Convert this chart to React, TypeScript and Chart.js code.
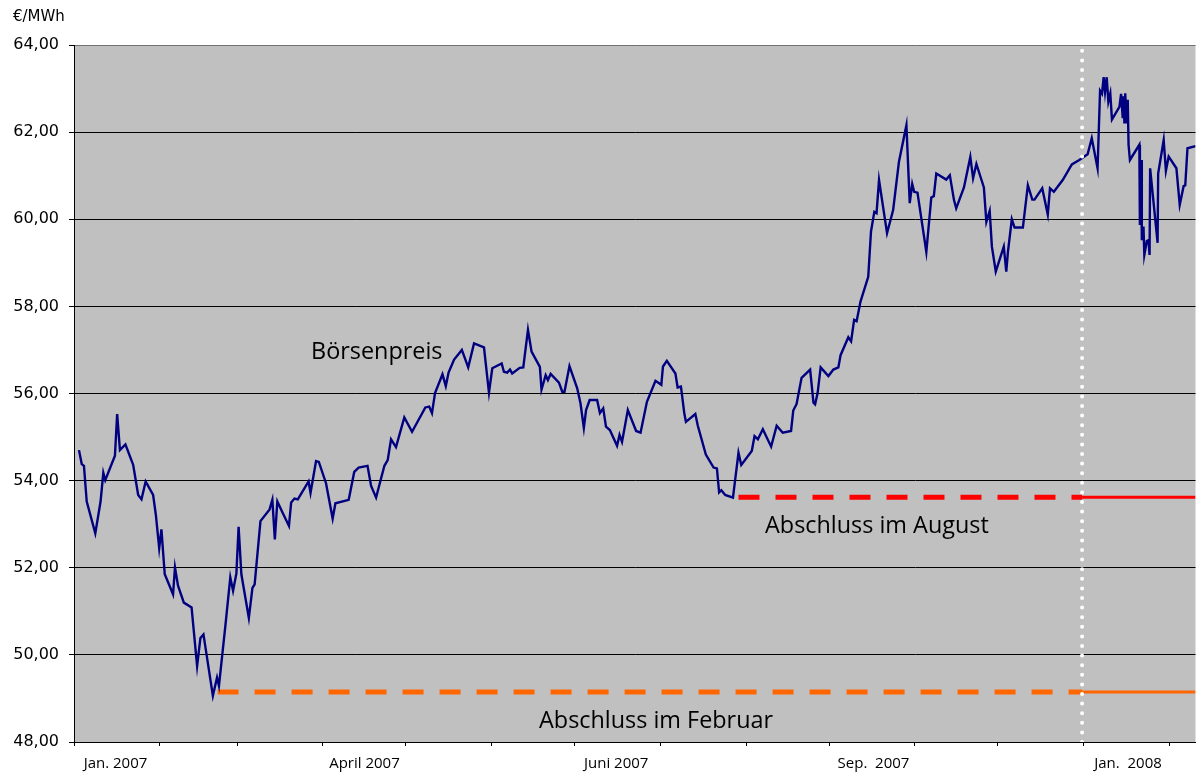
import React, { useEffect, useRef } from 'react';
import { Chart, registerables } from 'chart.js';

Chart.register(...registerables);

// Days since 1 Jan 2007
const priceDays = [
  1.8, 2.8, 3.6, 4.6, 7.7, 9.6, 10.6, 11.3, 14.8, 15.6,
  16.6, 18.6, 21.4, 23.2, 24.4, 25.9, 28.6, 29.6, 30.8, 31.6,
  32.8, 35.8, 36.5, 37.6, 39.7, 42.5, 44.5, 45.7, 46.8, 50.2,
  51.7, 52.4, 54.8, 56.5, 57.5, 58.7, 59.5, 60.5, 63.2, 64.5,
  65.3, 67.4, 70.7, 71.7, 72.6, 73.5, 75.5, 77.7, 78.5, 79.7,
  80.9, 84.8, 85.5, 87.5, 88.5, 91.1, 93.5, 94.5, 99.3, 101.3,
  102.9, 106.1, 107.4, 109.2, 112.2, 113.4, 114.6, 116.4, 119.4, 122.2,
  127.0, 128.4, 129.4, 130.5, 133.2, 134.4, 135.4, 137.4, 140.2, 142.5,
  144.6, 148.2, 150.0, 151.2, 154.6, 155.4, 156.6, 157.6, 158.4, 161.1,
  162.4, 164.1, 165.4, 168.4, 169.0, 170.5, 171.3, 172.3, 175.3, 176.5,
  177.3, 179.1, 181.9, 183.1, 184.3, 185.1, 186.4, 189.1, 190.1, 191.3,
  192.3, 193.7, 196.3, 197.2, 198.1, 200.2, 203.2, 204.8, 207.1, 210.2,
  212.3, 212.9, 214.3, 217.4, 218.2, 219.4, 220.6, 221.2, 224.6, 225.5,
  228.4, 231.2, 232.4, 233.2, 234.0, 235.4, 238.2, 240.2, 241.2, 245.0,
  246.0, 247.2, 249.0, 252.0, 254.0, 256.2, 259.2, 260.0, 261.2, 263.0,
  266.1, 267.3, 267.9, 268.8, 269.9, 272.7, 274.5, 276.3, 277.1, 279.9,
  280.9, 282.0, 282.9, 284.3, 287.1, 288.1, 289.3, 290.1, 291.0, 293.9,
  296.1, 298.2, 300.9, 302.1, 303.0, 303.7, 304.9, 308.1, 309.9, 310.8,
  311.7, 315.3, 316.6, 318.1, 318.9, 321.7, 324.0, 325.0, 326.2, 328.9,
  329.8, 331.0, 331.8, 333.2, 336.1, 337.0, 337.6, 339.0, 340.0, 343.0,
  344.8, 346.4, 347.2, 350.0, 352.0, 352.8, 354.2, 357.4, 360.7, 363.4,
  366.4, 367.9, 370.0, 370.9, 371.6, 372.2, 372.7, 373.3, 373.9, 374.6,
  375.2, 377.9, 378.5, 379.1, 379.4, 379.7, 380.0, 380.5, 380.9, 381.2,
  381.7, 385.1, 385.3, 385.7, 386.0, 386.6, 386.9, 387.8, 388.4, 388.8,
  389.0, 391.7, 391.9, 393.9, 394.7, 395.7, 398.5, 399.7, 401.1, 401.7,
  402.5, 405.4,
];

const priceValues = [
  54.70, 54.38, 54.34, 53.52, 52.79, 53.52, 54.18, 54.01, 54.57, 55.53,
  54.70, 54.83, 54.36, 53.67, 53.57, 53.98, 53.67, 53.21, 52.45, 52.88,
  51.85, 51.39, 52.01, 51.59, 51.20, 51.09, 49.74, 50.39, 50.47, 49.06,
  49.48, 49.29, 50.72, 51.78, 51.47, 51.87, 52.94, 51.85, 50.85, 51.54,
  51.62, 53.07, 53.34, 53.56, 52.65, 53.52, 53.25, 52.96, 53.50, 53.59,
  53.57, 53.98, 53.72, 54.45, 54.43, 53.94, 53.13, 53.48, 53.56, 54.20,
  54.30, 54.34, 53.88, 53.61, 54.34, 54.47, 54.95, 54.77, 55.45, 55.12,
  55.68, 55.70, 55.55, 56.01, 56.44, 56.17, 56.48, 56.78, 57.00, 56.60,
  57.15, 57.06, 56.02, 56.58, 56.69, 56.50, 56.48, 56.55, 56.46, 56.59,
  56.60, 57.46, 56.96, 56.61, 56.09, 56.42, 56.31, 56.45, 56.25, 56.04,
  56.04, 56.63, 56.12, 55.77, 55.21, 55.62, 55.85, 55.85, 55.55, 55.66,
  55.24, 55.16, 54.80, 55.05, 54.89, 55.62, 55.14, 55.10, 55.81, 56.29,
  56.20, 56.62, 56.75, 56.46, 56.14, 56.16, 55.55, 55.35, 55.53, 55.26,
  54.60, 54.30, 54.28, 53.73, 53.78, 53.67, 53.61, 54.64, 54.36, 54.68,
  55.02, 54.95, 55.18, 54.78, 55.26, 55.10, 55.14, 55.61, 55.76, 56.36,
  56.55, 55.79, 55.75, 56.01, 56.60, 56.40, 56.55, 56.60, 56.88, 57.29,
  57.20, 57.69, 57.66, 58.11, 58.68, 59.72, 60.17, 60.14, 60.90, 59.68,
  60.21, 61.32, 62.16, 60.37, 60.81, 60.63, 60.61, 59.25, 60.50, 60.53,
  61.05, 60.91, 61.01, 60.44, 60.25, 60.73, 61.43, 60.94, 61.27, 60.73,
  59.94, 60.19, 59.37, 58.80, 59.37, 58.80, 59.25, 60.00, 59.81, 59.81,
  60.78, 60.45, 60.45, 60.71, 60.11, 60.71, 60.63, 60.90, 61.26, 61.36,
  61.49, 61.86, 61.17, 62.95, 62.88, 63.26, 62.92, 63.26, 62.70, 62.89,
  62.29, 62.58, 62.88, 62.32, 62.82, 62.20, 62.89, 62.20, 62.74, 61.71,
  61.36, 61.71, 59.87, 61.36, 59.52, 59.83, 59.18, 59.50, 59.52, 59.18,
  61.17, 59.46, 61.05, 61.82, 61.11, 61.44, 61.17, 60.33, 60.76, 60.78,
  61.63, 61.68,
];

const monthStartDays = [0, 31, 59, 90, 120, 151, 181, 212, 243, 273, 304, 334, 365, 396];
const tickLabelDays = [15, 105, 196, 289, 381];
const tickLabels = ['Jan. 2007', 'April 2007', 'Juni 2007', 'Sep.  2007', 'Jan.  2008'];

const axisStartDay = 0;
const axisEndDay = 405.4;
const yMin = 48;
const yMax = 64;
const yStep = 2;

const yearEndDay = 364.4;
const februarStartDay = 51.9;
const februarLevel = 49.15;
const augustStartDay = 240.2;
const augustLevel = 53.62;

const textLabels = [
  { text: 'Börsenpreis', day: 85.7, value: 56.79 },
  { text: 'Abschluss im August', day: 249.8, value: 52.8 },
  { text: 'Abschluss im Februar', day: 168.1, value: 48.33 },
];
const unitLabel = '€/MWh';

const bgPlugin = {
  id: 'plotBg',
  beforeDraw(chart: any) {
    const { ctx, chartArea: a } = chart;
    ctx.save();
    ctx.fillStyle = '#C0C0C0';
    ctx.fillRect(a.left, a.top, a.right - a.left, a.bottom - a.top);
    ctx.restore();
  },
};

const textPlugin = {
  id: 'texts',
  afterDraw(chart: any) {
    const { ctx, scales } = chart;
    ctx.save();
    ctx.fillStyle = '#000';
    ctx.textAlign = 'left';
    ctx.textBaseline = 'alphabetic';
    ctx.font = '23.4px "Open Sans"';
    for (const t of textLabels) {
      ctx.fillText(t.text, scales.x.getPixelForValue(t.day), scales.y.getPixelForValue(t.value));
    }
    ctx.font = '15px "DejaVu Sans"';
    ctx.fillText(unitLabel, 13, 21);
    ctx.restore();
  },
};

export default function App() {
  const ref = useRef<HTMLCanvasElement>(null);
  useEffect(() => {
    const priceData = priceDays.map((d, i) => ({ x: d, y: priceValues[i] }));
    const chart = new Chart(ref.current as HTMLCanvasElement, {
      type: 'line',
      data: {
        datasets: [
          {
            label: 'Jahreswechsel',
            data: [{ x: yearEndDay, y: yMin }, { x: yearEndDay, y: yMax }],
            borderColor: '#FFFFFF',
            borderWidth: 4,
            borderDash: [0, 9.6],
            borderCapStyle: 'round',
            pointRadius: 0,
          },
          {
            label: 'Börsenpreis',
            data: priceData,
            borderColor: '#000080',
            borderWidth: 2.4,
            pointRadius: 0,
            tension: 0,
          },
          {
            label: 'August dashed',
            data: [{ x: augustStartDay, y: augustLevel }, { x: yearEndDay, y: augustLevel }],
            borderColor: '#FF0000',
            borderWidth: 5,
            borderDash: [21, 16],
            borderCapStyle: 'butt',
            pointRadius: 0,
          },
          {
            label: 'August solid',
            data: [{ x: yearEndDay, y: augustLevel }, { x: axisEndDay, y: augustLevel }],
            borderColor: '#FF0000',
            borderWidth: 3,
            pointRadius: 0,
          },
          {
            label: 'Februar dashed',
            data: [{ x: februarStartDay, y: februarLevel }, { x: yearEndDay, y: februarLevel }],
            borderColor: '#FF6600',
            borderWidth: 5,
            borderDash: [21, 16],
            borderCapStyle: 'butt',
            pointRadius: 0,
          },
          {
            label: 'Februar solid',
            data: [{ x: yearEndDay, y: februarLevel }, { x: axisEndDay, y: februarLevel }],
            borderColor: '#FF6600',
            borderWidth: 3,
            pointRadius: 0,
          },
        ],
      },
      options: {
        animation: false,
        responsive: true,
        maintainAspectRatio: false,
        layout: { padding: { top: 45, right: 0, left: 0, bottom: 0 } },
        plugins: { legend: { display: false }, tooltip: { enabled: false } },
        scales: {
          x: {
            type: 'linear',
            min: axisStartDay,
            max: axisEndDay,
            afterBuildTicks: (scale: any) => {
              const vals = [...monthStartDays, ...tickLabelDays].sort((a, b) => a - b);
              scale.ticks = vals.map((v) => ({ value: v }));
            },
            afterFit: (scale: any) => {
              scale.height = 32;
              scale.paddingLeft = 0;
              scale.paddingRight = 0;
            },
            ticks: {
              autoSkip: false,
              maxRotation: 0,
              minRotation: 0,
              padding: 9,
              color: '#000',
              font: { family: '"Open Sans"', size: 15 },
              callback: (value: any) => {
                const idx = tickLabelDays.indexOf(Number(value));
                return idx >= 0 ? tickLabels[idx] : '';
              },
            },
            grid: {
              drawOnChartArea: false,
              drawTicks: true,
              tickLength: 4,
              tickWidth: 1,
              tickColor: (ctx: any) =>
                ctx.tick && monthStartDays.includes(ctx.tick.value) ? '#000' : 'rgba(0,0,0,0)',
            },
            border: { color: '#000', width: 1 },
          },
          y: {
            type: 'linear',
            min: yMin,
            max: yMax,
            afterFit: (scale: any) => {
              scale.width = 74;
            },
            ticks: {
              stepSize: yStep,
              padding: 10,
              color: '#000',
              font: { family: '"DejaVu Sans"', size: 16 },
              callback: (value: any) => Number(value).toFixed(2).replace('.', ','),
            },
            grid: {
              color: (ctx: any) => (ctx.tick && ctx.tick.value === yMax ? '#707070' : '#000'),
              lineWidth: 1,
              tickLength: 5,
              tickColor: '#000',
            },
            border: { color: '#000', width: 1 },
          },
        },
      } as any,
      plugins: [bgPlugin, textPlugin],
    });
    if ((document as any).fonts && (document as any).fonts.load) {
      Promise.all([
        (document as any).fonts.load('23px "Open Sans"'),
        (document as any).fonts.load('16px "DejaVu Sans"'),
      ]).then(() => chart.update()).catch(() => {});
    }
    return () => chart.destroy();
  }, []);
  return (
    <div style={{ position: 'fixed', left: 0, top: 0, width: 1198, height: 774, background: '#fff' }}>
      <canvas ref={ref} />
    </div>
  );
}
